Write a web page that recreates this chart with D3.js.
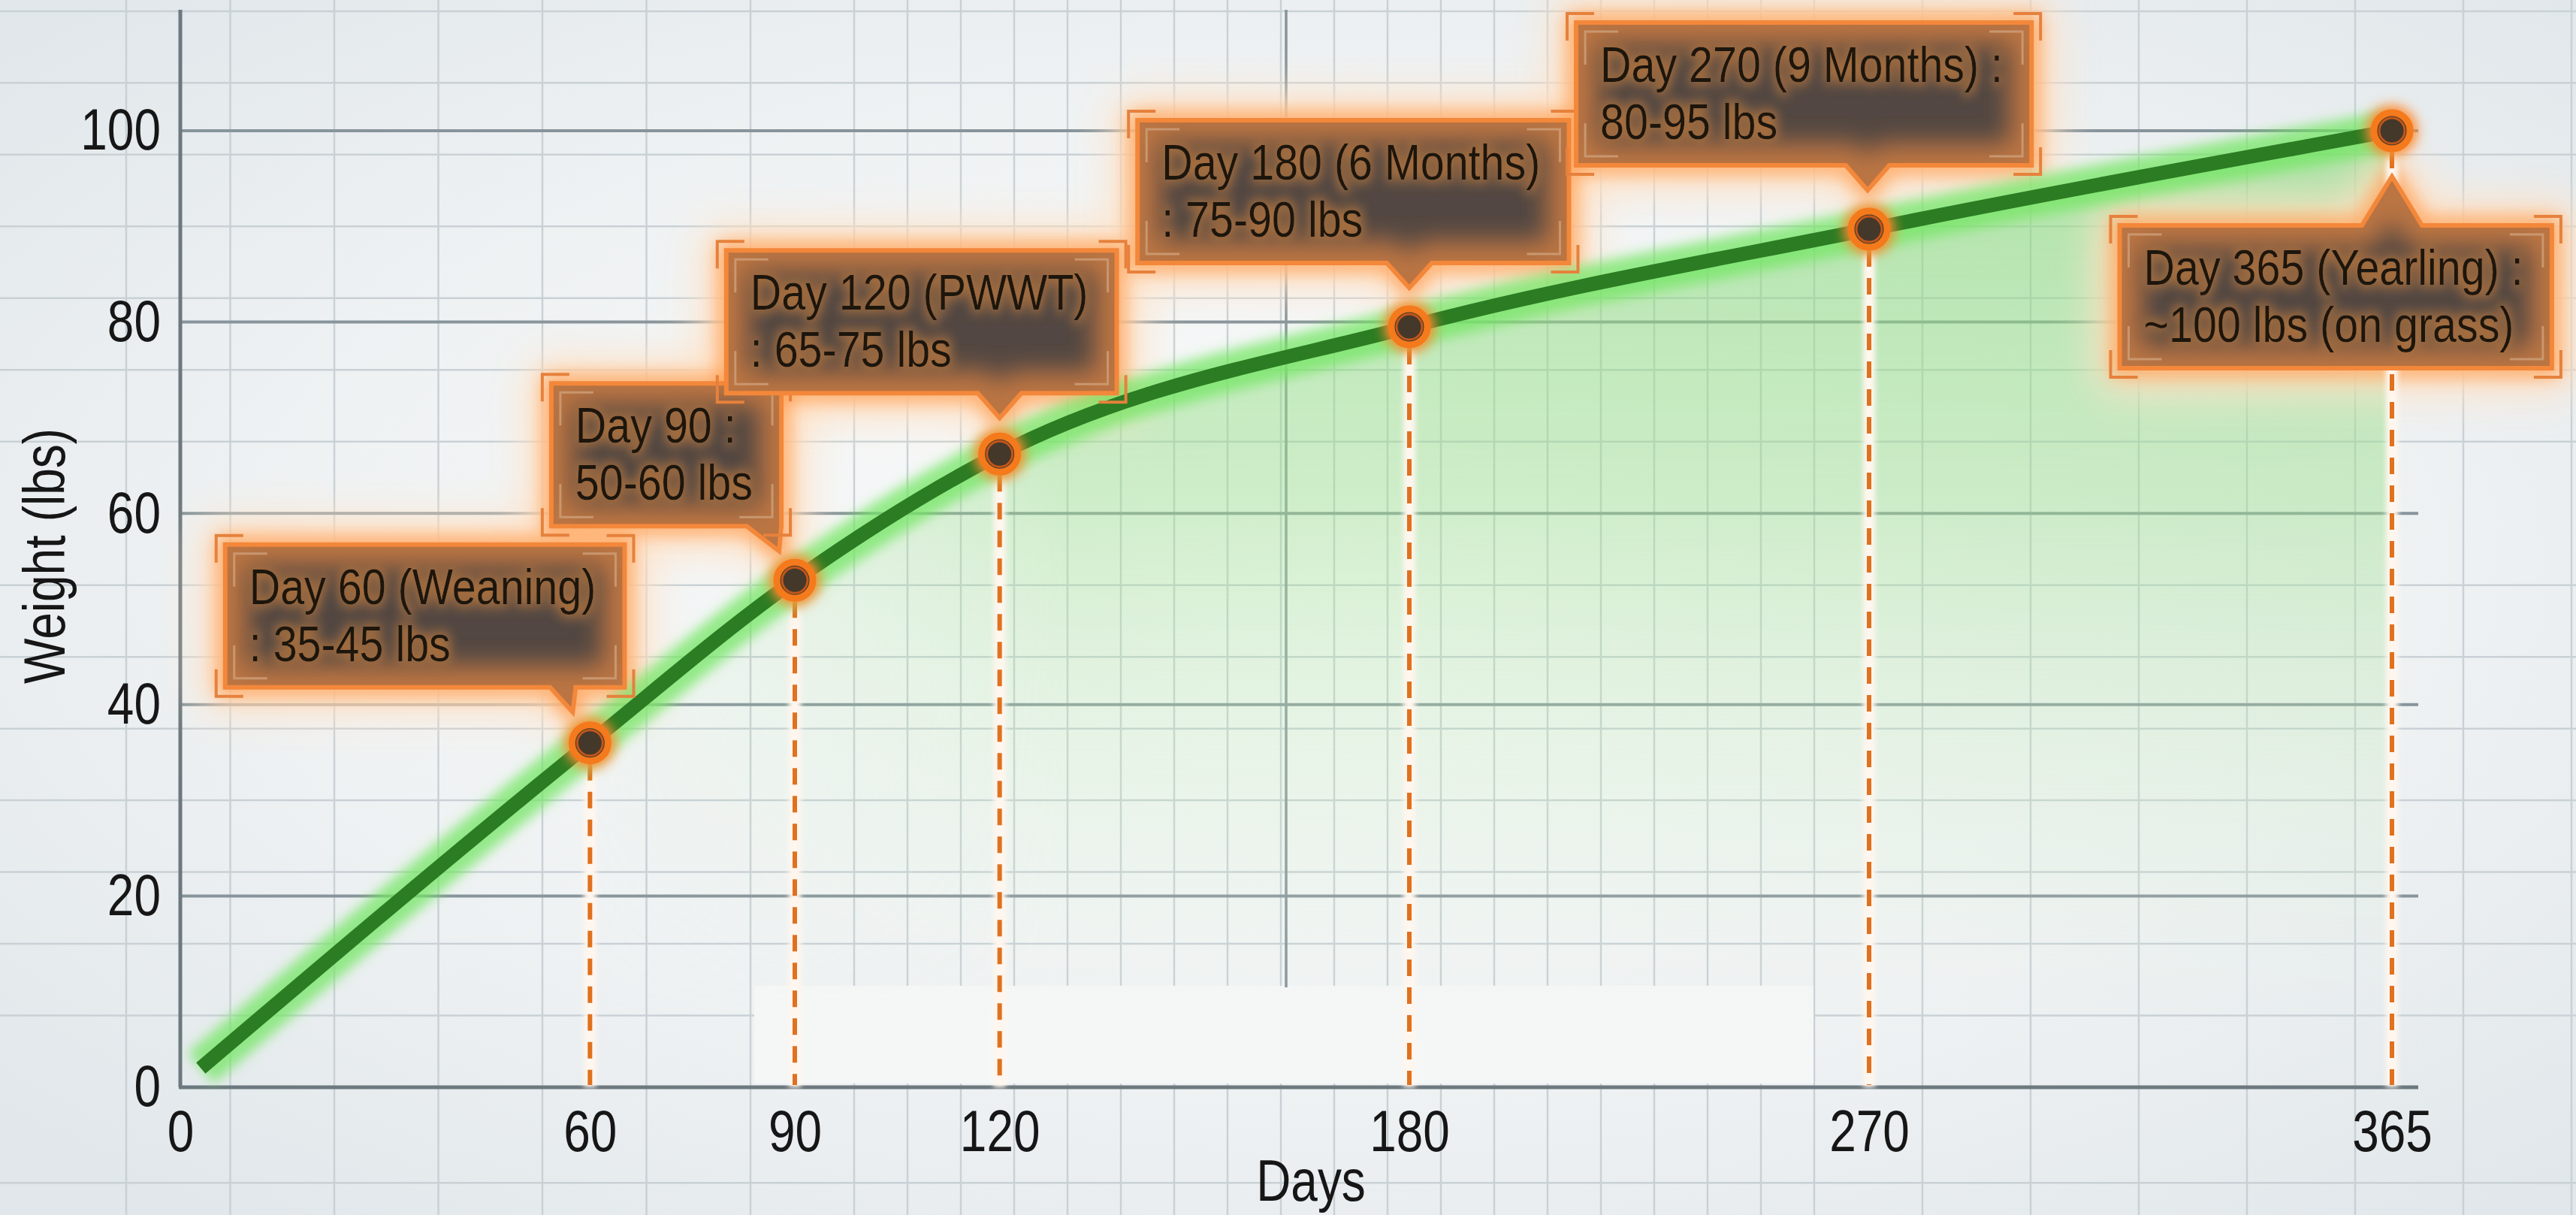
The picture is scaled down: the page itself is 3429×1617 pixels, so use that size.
<!DOCTYPE html>
<html>
<head>
<meta charset="utf-8">
<script src="https://cdn.jsdelivr.net/npm/d3@7"></script>
<style>
  html, body { margin: 0; padding: 0; background: #eef2f3; }
  svg { display: block; }
  text { font-family: "Liberation Sans", Arial, sans-serif; }
</style>
</head>
<body>
<div id="chart"></div>
<script>
/* Data */
const curveDays = [3, 60, 90, 120, 180, 270, 365]
const curveWeights = [2, 36, 53, 66.2, 79.5, 89.7, 100]

const milestoneDays = [60, 90, 120, 180, 270, 365]
const milestoneWeights = [36, 53, 66.2, 79.5, 89.7, 100]
const milestoneLabels = [
  ["Day 60 (Weaning)", ": 35-45 lbs"],
  ["Day 90 :", "50-60 lbs"],
  ["Day 120 (PWWT)", ": 65-75 lbs"],
  ["Day 180 (6 Months)", ": 75-90 lbs"],
  ["Day 270 (9 Months) :", "80-95 lbs"],
  ["Day 365 (Yearling) :", "~100 lbs (on grass)"]
]

const xTicks = [0, 60, 90, 120, 180, 270, 365]
const yTicks = [0, 20, 40, 60, 80, 100]
/* End Data */

// where each callout sits relative to its point
const calloutLayout = [
  {tipDx: -23, tipDy: -41, frac: 0.87, w1: 30, w2: 4, up: false},
  {tipDx: -21, tipDy: -39, frac: 0.99, w1: 43, w2: 3, up: false},
  {tipDx: 0, tipDy: -48, frac: 0.70, w1: 29, w2: 29, up: false},
  {tipDx: 0, tipDy: -52, frac: 0.63, w1: 30, w2: 30, up: false},
  {tipDx: -2, tipDy: -52, frac: 0.64, w1: 29, w2: 29, up: false},
  {tipDx: 0, tipDy: 61, frac: 0.63, w1: 40, w2: 40, up: true}
]

const width = 3429
const height = 1617
const narrow = 0.82   // the picture uses a condensed face
const labelSize = 67
const labelNarrow = 0.857

const x = d3.scaleLinear()
    .domain([0, 180, 270, 365])
    .range([240, 1876, 2488, 3184])

const y = d3.scaleLinear()
    .domain([0, 100])
    .range([1447, 174])

const axisRight = 3219
const axisTop = 13

// squeeze a text horizontally so Liberation Sans looks like a narrow face
const condense = (selection, k = narrow) => {
  selection.each(function() {
    const t = d3.select(this)
    const tx = +t.attr("x") || 0
    const ty = +t.attr("y") || 0
    const prev = t.attr("transform") || ""
    t.attr("x", 0).attr("y", 0)
        .attr("transform", `${prev} translate(${tx},${ty}) scale(${k},1)`)
  })
}

const svg = d3.select("#chart").append("svg")
    .attr("width", width)
    .attr("height", height)

const defs = svg.append("defs")

const addBlur = (id, sd) => {
  defs.append("filter")
      .attr("id", id)
      .attr("filterUnits", "userSpaceOnUse")
      .attr("x", 0).attr("y", 0)
      .attr("width", width).attr("height", height)
    .append("feGaussianBlur")
      .attr("stdDeviation", sd)
}
addBlur("blur3", 3)
addBlur("blur8", 8)
addBlur("blur12", 12)
addBlur("blur16", 16)
addBlur("blur26", 26)

// background
const bg = defs.append("radialGradient")
    .attr("id", "bg")
    .attr("cx", "52%").attr("cy", "48%").attr("r", "68%")
bg.append("stop").attr("offset", 0).attr("stop-color", "#fafbfb")
bg.append("stop").attr("offset", 0.6).attr("stop-color", "#eff2f3")
bg.append("stop").attr("offset", 1).attr("stop-color", "#e1e7eb")

// area fill
const areaGrad = defs.append("linearGradient")
    .attr("id", "areaGrad")
    .attr("gradientUnits", "userSpaceOnUse")
    .attr("x1", 0).attr("x2", 0)
    .attr("y1", y(100)).attr("y2", y(5))
const areaStops = [[0, "#86d978", 0.62], [0.4, "#9fe092", 0.47], [0.75, "#c9ecc2", 0.22], [1, "#e6f3e3", 0]]
areaStops.forEach(s => {
  areaGrad.append("stop")
      .attr("offset", s[0])
      .attr("stop-color", s[1])
      .attr("stop-opacity", s[2])
})

const fadeGrad = defs.append("linearGradient")
    .attr("id", "fadeGrad")
    .attr("gradientUnits", "userSpaceOnUse")
    .attr("x1", x(50)).attr("x2", x(130))
    .attr("y1", 0).attr("y2", 0)
fadeGrad.append("stop").attr("offset", 0).attr("stop-color", "#000")
fadeGrad.append("stop").attr("offset", 1).attr("stop-color", "#fff")

defs.append("mask")
    .attr("id", "fadeLeft")
    .attr("maskUnits", "userSpaceOnUse")
    .attr("x", 0).attr("y", 0).attr("width", width).attr("height", height)
  .append("rect")
    .attr("width", width)
    .attr("height", height)
    .attr("fill", "url(#fadeGrad)")

// text halo inside the callouts
const halo = defs.append("filter")
    .attr("id", "halo")
    .attr("x", "-10%").attr("y", "-40%").attr("width", "120%").attr("height", "180%")
halo.append("feMorphology").attr("in", "SourceAlpha").attr("operator", "dilate").attr("radius", 4).attr("result", "d")
halo.append("feGaussianBlur").attr("in", "d").attr("stdDeviation", 8).attr("result", "b")
halo.append("feFlood").attr("flood-color", "#a9703f").attr("flood-opacity", 0.95)
halo.append("feComposite").attr("in2", "b").attr("operator", "in").attr("result", "g")
const haloMerge = halo.append("feMerge")
haloMerge.append("feMergeNode").attr("in", "g")
haloMerge.append("feMergeNode").attr("in", "SourceGraphic")

svg.append("rect")
    .attr("width", width)
    .attr("height", height)
    .attr("fill", "url(#bg)")

/* Grid */
const grid = svg.append("g")

const minorY = [-10].concat(d3.range(7.5, 115, 7.5).filter(v => v % 20 !== 0))
grid.selectAll(".minor-h")
  .data(minorY)
  .join("line")
    .attr("x1", 0).attr("x2", width)
    .attr("y1", d => y(d)).attr("y2", d => y(d))
    .attr("stroke", "#c9d1d6")
    .attr("stroke-width", 2.5)

const minorX = [].concat(
  d3.range(168, 1137, 138.5),
  d3.range(1137, 2415, 71),
  d3.range(2415, 3440, 144)
)
grid.selectAll(".minor-v")
  .data(minorX)
  .join("line")
    .attr("x1", d => d).attr("x2", d => d)
    .attr("y1", 0).attr("y2", height)
    .attr("stroke", "#c9d1d6")
    .attr("stroke-width", 2.5)

// the pale strip above the x axis in the middle
grid.append("rect")
    .attr("x", 1004).attr("y", 1312)
    .attr("width", 1410).attr("height", 130)
    .attr("fill", "#f5f7f6")

grid.selectAll(".major-h")
  .data(yTicks.filter(d => d > 0))
  .join("line")
    .attr("x1", x(0)).attr("x2", axisRight)
    .attr("y1", d => y(d)).attr("y2", d => y(d))
    .attr("stroke", "#87949b")
    .attr("stroke-width", 4)

grid.append("line")
    .attr("x1", (x(0) + x(365)) / 2).attr("x2", (x(0) + x(365)) / 2)
    .attr("y1", axisTop).attr("y2", 1314)
    .attr("stroke", "#87949b")
    .attr("stroke-width", 3.5)

/* Area under the curve */
const points = curveDays.map((d, i) => [d, curveWeights[i]])

const area = d3.area()
    .x(d => x(d[0]))
    .y0(y(0))
    .y1(d => y(d[1]))
    .curve(d3.curveMonotoneX)

svg.append("path")
    .datum(points.filter(d => d[0] >= 60))
    .attr("d", area)
    .attr("fill", "url(#areaGrad)")
    .attr("mask", "url(#fadeLeft)")

/* Axes */
svg.append("line")
    .attr("x1", x(0)).attr("x2", x(0))
    .attr("y1", axisTop).attr("y2", y(0))
    .attr("stroke", "#6d797f")
    .attr("stroke-width", 5)

svg.append("line")
    .attr("x1", x(0) - 2).attr("x2", axisRight)
    .attr("y1", y(0)).attr("y2", y(0))
    .attr("stroke", "#6d797f")
    .attr("stroke-width", 5)

const xAxis = svg.append("g")
    .attr("transform", `translate(0,${y(0)})`)
    .call(d3.axisBottom(x).tickValues(xTicks).tickSize(0).tickPadding(30).tickFormat(d3.format("d")))
xAxis.select(".domain").remove()

const yAxis = svg.append("g")
    .attr("transform", `translate(${x(0)},0)`)
    .call(d3.axisLeft(y).tickValues(yTicks).tickSize(0).tickPadding(26).tickFormat(d3.format("d")))
yAxis.select(".domain").remove()

svg.selectAll(".tick text")
    .style("font-family", "\"Liberation Sans\", Arial, sans-serif")
    .style("font-size", "78px")
    .attr("fill", "#161616")
    .call(condense)

svg.append("text")
    .attr("x", 1745)
    .attr("y", 1598)
    .attr("text-anchor", "middle")
    .style("font-size", "78px")
    .attr("fill", "#161616")
    .text("Days")
    .call(condense)

svg.append("text")
    .attr("transform", "translate(86,740) rotate(-90)")
    .attr("text-anchor", "middle")
    .style("font-size", "78px")
    .attr("fill", "#161616")
    .text("Weight (lbs)")
    .call(condense)

/* Callout geometry */
const measure = svg.append("text").style("font-size", `${labelSize}px`).attr("opacity", 0)

const milestones = milestoneDays.map((d, i) => {
  const m = Object.assign({day: d, weight: milestoneWeights[i], lines: milestoneLabels[i]}, calloutLayout[i])
  m.px = x(d)
  m.py = y(m.weight)
  m.tipX = m.px + m.tipDx
  m.tipY = m.py + m.tipDy
  const textW = d3.max(m.lines, l => {
    measure.text(l)
    return measure.node().getComputedTextLength() * labelNarrow
  })
  m.w = textW + 70
  m.h = 190
  const plen = m.up ? 65 : 33
  m.left = m.tipX - m.frac * m.w
  m.top = m.up ? m.tipY + plen : m.tipY - plen - m.h
  const l = m.left, t = m.top, r = m.left + m.w, b = m.top + m.h
  m.shape = m.up
    ? `M${l},${t}H${m.tipX - m.w1}L${m.tipX},${m.tipY}L${m.tipX + m.w2},${t}H${r}V${b}H${l}Z`
    : `M${l},${t}H${r}V${b}H${m.tipX + m.w2}L${m.tipX},${m.tipY}L${m.tipX - m.w1},${b}H${l}Z`
  return m
})
measure.remove()

// soft peach glow round the callouts
const glows = svg.append("g")
glows.selectAll(".wide-glow")
  .data(milestones)
  .join("path")
    .attr("d", d => d.shape)
    .attr("fill", "#fff4ea")
    .attr("stroke", "#ffe2c6")
    .attr("stroke-width", 70)
    .attr("stroke-linejoin", "round")
    .attr("filter", "url(#blur26)")
    .attr("opacity", 0.9)
glows.selectAll(".near-glow")
  .data(milestones)
  .join("path")
    .attr("d", d => d.shape)
    .attr("fill", "none")
    .attr("stroke", "#ff9a4a")
    .attr("stroke-width", 22)
    .attr("filter", "url(#blur12)")
    .attr("opacity", 0.85)

/* Dashed drop lines */
svg.selectAll(".drop-glow")
  .data(milestones)
  .join("line")
    .attr("x1", d => d.px).attr("x2", d => d.px)
    .attr("y1", d => d.py + 28).attr("y2", y(0))
    .attr("stroke", "#fff6ee")
    .attr("stroke-width", 16)
    .attr("filter", "url(#blur3)")
svg.selectAll(".drop")
  .data(milestones)
  .join("line")
    .attr("x1", d => d.px).attr("x2", d => d.px)
    .attr("y1", d => d.py + 28).attr("y2", y(0) - 3)
    .attr("stroke", "#e0711f")
    .attr("stroke-width", 6)
    .attr("stroke-dasharray", "22 15")

/* Growth curve */
const line = d3.line()
    .x(d => x(d[0]))
    .y(d => y(d[1]))
    .curve(d3.curveMonotoneX)

svg.append("path")
    .datum(points)
    .attr("d", line)
    .attr("fill", "none")
    .attr("stroke", "#74e663")
    .attr("stroke-width", 54)
    .attr("stroke-opacity", 0.75)
    .attr("filter", "url(#blur8)")

svg.append("path")
    .datum(points)
    .attr("d", line)
    .attr("fill", "none")
    .attr("stroke", "#2b7c22")
    .attr("stroke-width", 19)

/* Points */
svg.selectAll(".pt-glow")
  .data(milestones)
  .join("circle")
    .attr("cx", d => d.px).attr("cy", d => d.py)
    .attr("r", 34)
    .attr("fill", "#ff8a30")
    .attr("filter", "url(#blur8)")
svg.selectAll(".pt")
  .data(milestones)
  .join("circle")
    .attr("cx", d => d.px).attr("cy", d => d.py)
    .attr("r", 24)
    .attr("fill", "#43382a")
    .attr("stroke", "#f47a1c")
    .attr("stroke-width", 9)
svg.selectAll(".pt-ring")
  .data(milestones)
  .join("circle")
    .attr("cx", d => d.px).attr("cy", d => d.py)
    .attr("r", 17)
    .attr("fill", "none")
    .attr("stroke", "#c2561a")
    .attr("stroke-width", 3)

/* Callout boxes */
const boxes = svg.selectAll(".callout")
  .data(milestones)
  .join("g")

boxes.append("clipPath")
    .attr("id", (d, i) => `clip-${i}`)
  .append("path")
    .attr("d", d => d.shape)

const inner = boxes.append("g")
    .attr("clip-path", (d, i) => `url(#clip-${i})`)
inner.append("path")
    .attr("d", d => d.shape)
    .attr("fill", "#524742")
inner.append("path")
    .attr("d", d => d.shape)
    .attr("fill", "none")
    .attr("stroke", "#bb7442")
    .attr("stroke-width", 60)
    .attr("filter", "url(#blur16)")

boxes.append("path")
    .attr("d", d => d.shape)
    .attr("fill", "none")
    .attr("stroke", "#f3873a")
    .attr("stroke-width", 6)
    .attr("stroke-linejoin", "miter")

const cornerPath = (d, off, len) => {
  const l = d.left - off, t = d.top - off, r = d.left + d.w + off, b = d.top + d.h + off
  return `M${l},${t + len}V${t}H${l + len}` +
    `M${r - len},${t}H${r}V${t + len}` +
    `M${r},${b - len}V${b}H${r - len}` +
    `M${l + len},${b}H${l}V${b - len}`
}

boxes.append("path")
    .attr("d", d => cornerPath(d, 12, 36))
    .attr("fill", "none")
    .attr("stroke", "#e6813c")
    .attr("stroke-width", 4)

boxes.append("path")
    .attr("d", d => cornerPath(d, -12, 44))
    .attr("fill", "none")
    .attr("stroke", "#c9976f")
    .attr("stroke-width", 3)

boxes.each(function(d) {
  const g = d3.select(this)
  d.lines.forEach((l, i) => {
    g.append("text")
        .attr("x", d.left + 32)
        .attr("y", d.top + 79 + i * 76)
        .style("font-size", `${labelSize}px`)
        .attr("fill", "#1b120c")
        .attr("filter", "url(#halo)")
        .text(l)
        .call(condense, labelNarrow)
  })
})
</script>
</body>
</html>
